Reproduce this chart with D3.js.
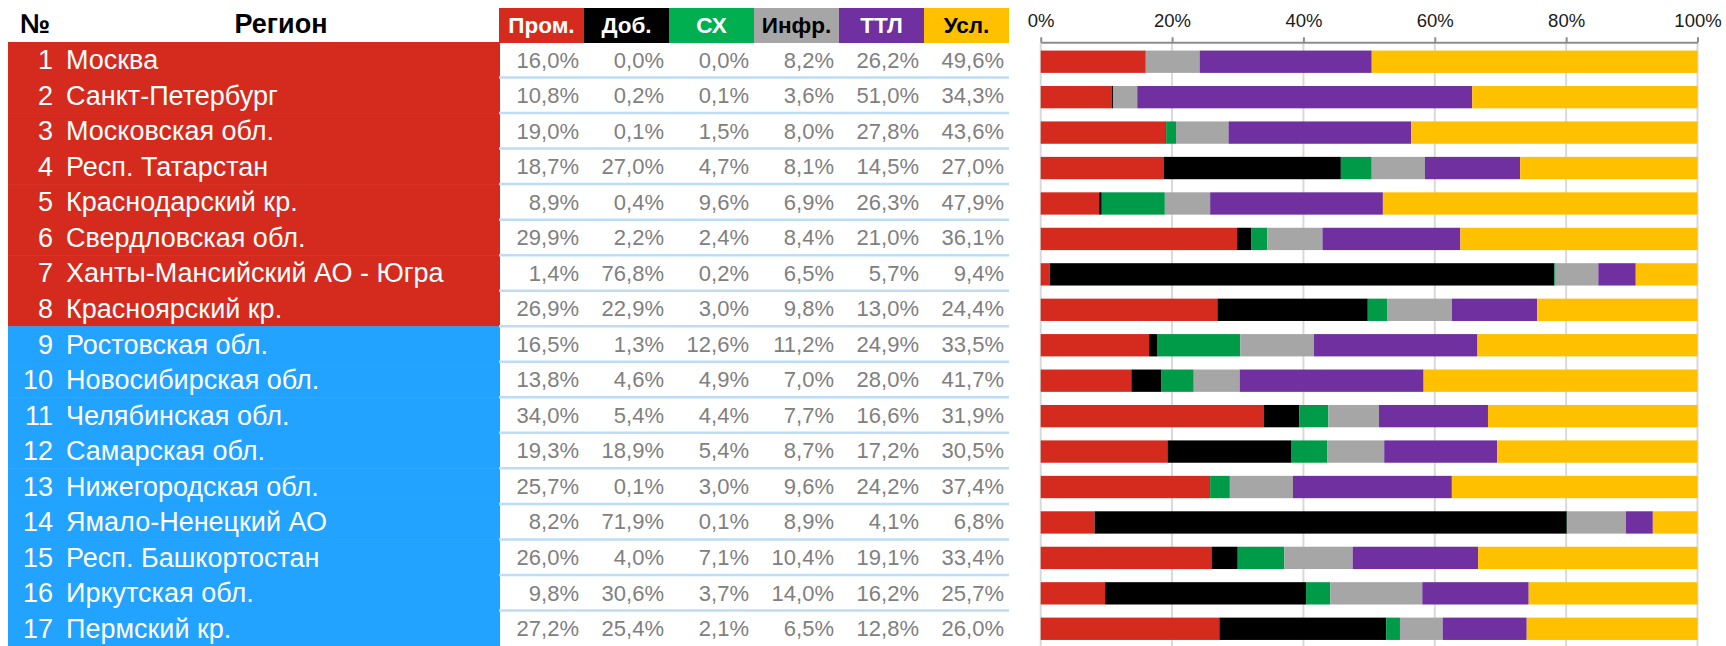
<!DOCTYPE html>
<html>
<head>
<meta charset="utf-8">
<script src="https://cdn.jsdelivr.net/npm/d3@7"></script>
<style>
  html, body { margin: 0; padding: 0; background: #fff; }
  svg { display: block; font-family: "Liberation Sans", Arial, sans-serif; }
</style>
</head>
<body>
<svg id="chart" width="1726" height="646"></svg>
<script>
// Regions, ranked
const regions = [
  "Москва", "Санкт-Петербург", "Московская обл.", "Респ. Татарстан",
  "Краснодарский кр.", "Свердловская обл.", "Ханты-Мансийский АО - Югра",
  "Красноярский кр.", "Ростовская обл.", "Новосибирская обл.",
  "Челябинская обл.", "Самарская обл.", "Нижегородская обл.",
  "Ямало-Ненецкий АО", "Респ. Башкортостан", "Иркутская обл.", "Пермский кр."
];

// Sector short names (column headers and stack order)
const sectors = ["Пром.", "Доб.", "СХ", "Инфр.", "ТТЛ", "Усл."];

// Sector shares by region, %
const prom = [16.0, 10.8, 19.0, 18.7, 8.9, 29.9, 1.4, 26.9, 16.5, 13.8, 34.0, 19.3, 25.7, 8.2, 26.0, 9.8, 27.2];
const dob  = [0.0, 0.2, 0.1, 27.0, 0.4, 2.2, 76.8, 22.9, 1.3, 4.6, 5.4, 18.9, 0.1, 71.9, 4.0, 30.6, 25.4];
const sx   = [0.0, 0.1, 1.5, 4.7, 9.6, 2.4, 0.2, 3.0, 12.6, 4.9, 4.4, 5.4, 3.0, 0.1, 7.1, 3.7, 2.1];
const infr = [8.2, 3.6, 8.0, 8.1, 6.9, 8.4, 6.5, 9.8, 11.2, 7.0, 7.7, 8.7, 9.6, 8.9, 10.4, 14.0, 6.5];
const ttl  = [26.2, 51.0, 27.8, 14.5, 26.3, 21.0, 5.7, 13.0, 24.9, 28.0, 16.6, 17.2, 24.2, 4.1, 19.1, 16.2, 12.8];
const usl  = [49.6, 34.3, 43.6, 27.0, 47.9, 36.1, 9.4, 24.4, 33.5, 41.7, 31.9, 30.5, 37.4, 6.8, 33.4, 25.7, 26.0];

// Axis ticks of the stacked bars
const axisTicks = [0, 0.2, 0.4, 0.6, 0.8, 1];

const series = [prom, dob, sx, infr, ttl, usl];
const headFill = ["#D52B1E", "#000000", "#00B050", "#A6A6A6", "#7030A0", "#FFC000"];
const headText = ["#fff", "#fff", "#fff", "#000", "#fff", "#000"];
const barFill  = ["#D52B1E", "#000000", "#009B48", "#A6A6A6", "#7030A0", "#FFC000"];
const groupFill = ["#D52B1E", "#22A3FF"]; // top-8 / rest

const rows = regions.map((name, i) => {
  const r = { name, rank: i + 1 };
  sectors.forEach((s, j) => r[s] = series[j][i]);
  return r;
});

const svg = d3.select("#chart");
const fmt = v => d3.format(".1f")(v).replace(".", ",") + "%";

// ---------- Table ----------
const tableTop = 42, tableBottom = 646;
const rowY = d3.scaleBand().domain(regions).range([tableTop, tableBottom]);
const colX = d3.scaleBand().domain(sectors).range([499, 1009]);

// Header
svg.append("text").attr("x", 20).attr("y", 33)
  .attr("font-size", 27).attr("font-weight", "bold").text("№");
svg.append("text").attr("x", 281).attr("y", 33).attr("text-anchor", "middle")
  .attr("font-size", 27).attr("font-weight", "bold").text("Регион");

const head = svg.append("g").selectAll("g").data(sectors).join("g");
head.append("rect")
  .attr("x", d => colX(d)).attr("y", 8)
  .attr("width", colX.bandwidth()).attr("height", 35)
  .attr("fill", (d, j) => headFill[j]);
head.append("text")
  .attr("x", d => colX(d) + colX.bandwidth() / 2).attr("y", 33)
  .attr("text-anchor", "middle").attr("font-size", 22.5).attr("font-weight", "bold")
  .attr("fill", (d, j) => headText[j]).text(d => d);

// Region cells
const left = svg.append("g");
left.selectAll("rect").data(rows).join("rect")
  .attr("x", 8).attr("y", d => rowY(d.name))
  .attr("width", 492).attr("height", rowY.bandwidth() + 0.5)
  .attr("fill", d => d.rank <= 8 ? groupFill[0] : groupFill[1]);
left.selectAll("text.rank").data(rows).join("text").attr("class", "rank")
  .attr("x", 53).attr("y", d => rowY(d.name) + rowY.bandwidth() / 2 + 9.5)
  .attr("text-anchor", "end").attr("font-size", 27).attr("fill", "#fff")
  .text(d => d.rank);
left.selectAll("text.name").data(rows).join("text").attr("class", "name")
  .attr("x", 66).attr("y", d => rowY(d.name) + rowY.bandwidth() / 2 + 9.5)
  .attr("font-size", 27).attr("fill", "#fff")
  .text(d => d.name);

// Row separators in the value columns
svg.append("g").selectAll("line").data(regions.slice(1)).join("line")
  .attr("x1", 499).attr("x2", 1009)
  .attr("y1", d => rowY(d)).attr("y2", d => rowY(d))
  .attr("stroke", "#BDDCF5").attr("stroke-width", 2.5);

// Values
const vals = svg.append("g");
rows.forEach(r => {
  sectors.forEach(s => {
    vals.append("text")
      .attr("x", colX(s) + colX.bandwidth() - 5)
      .attr("y", rowY(r.name) + rowY.bandwidth() / 2 + 7.8)
      .attr("text-anchor", "end").attr("font-size", 22).attr("fill", "#808080")
      .text(fmt(r[s]));
  });
});

// ---------- 100% stacked bars ----------
const x = d3.scaleLinear().domain([0, 1]).range([1040.7, 1697.5]);
const y = d3.scaleBand().domain(regions).range([44, 646.5])
  .paddingInner(0.37).paddingOuter(0.185);

// Gridlines
svg.append("g").selectAll("line").data(axisTicks).join("line")
  .attr("x1", d => x(d)).attr("x2", d => x(d))
  .attr("y1", 42).attr("y2", 646)
  .attr("stroke", "#D9D9D9").attr("stroke-width", 2);

const stack = d3.stack().keys(sectors).offset(d3.stackOffsetExpand);
const layers = stack(rows);

svg.append("g").selectAll("g").data(layers).join("g")
  .attr("fill", (d, j) => barFill[j])
  .selectAll("rect").data(d => d).join("rect")
  .attr("x", d => x(d[0]))
  .attr("y", d => y(d.data.name))
  .attr("width", d => Math.max(0, x(d[1]) - x(d[0])))
  .attr("height", y.bandwidth());

// Axis on top
const axis = svg.append("g").attr("transform", "translate(0,42.3)")
  .call(d3.axisTop(x).tickValues(axisTicks).tickFormat(d3.format(".0%"))
    .tickSize(5).tickSizeOuter(0).tickPadding(10.5));
axis.select(".domain").attr("stroke", "#8C8C8C").attr("stroke-width", 2);
axis.selectAll(".tick line").attr("stroke", "#8C8C8C").attr("stroke-width", 2);
axis.selectAll(".tick text").attr("font-size", 18.5).attr("fill", "#1a1a1a")
  .attr("font-family", "Liberation Sans, Arial, sans-serif");
</script>
</body>
</html>
